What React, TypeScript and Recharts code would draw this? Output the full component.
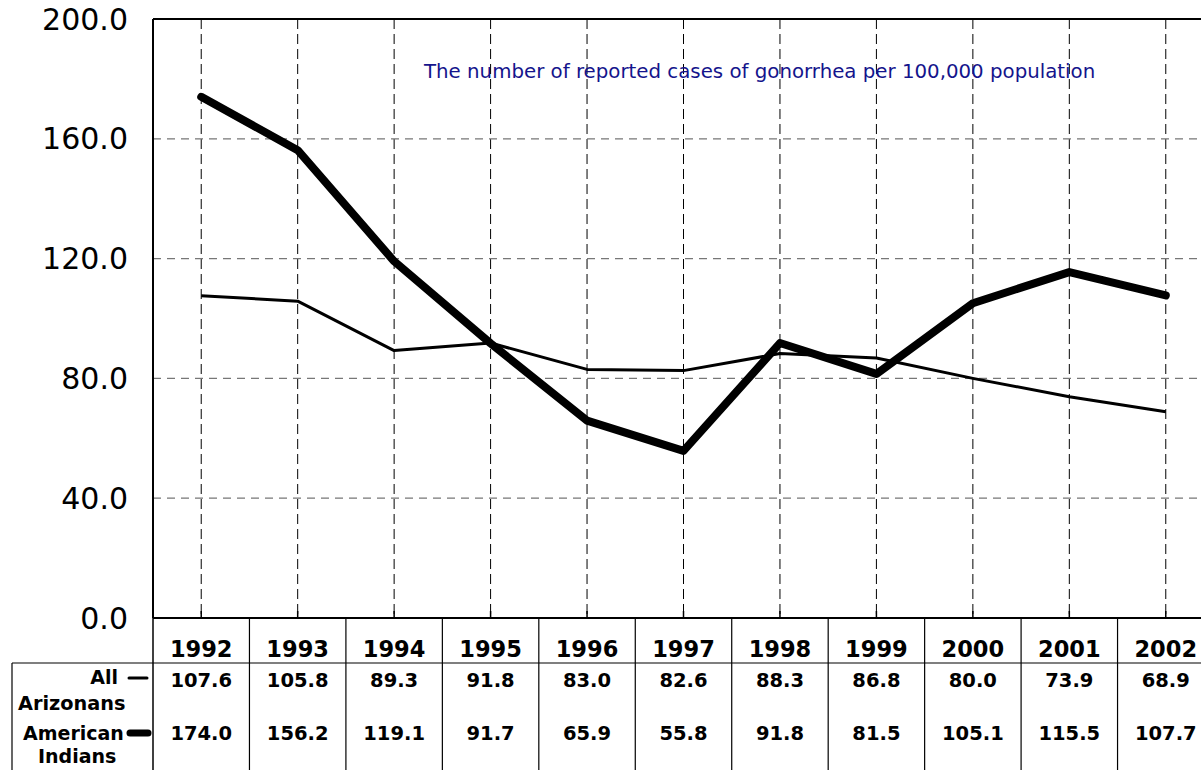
import { LineChart, Line, XAxis, YAxis, CartesianGrid, ReferenceLine } from "recharts";

const years = ["1992", "1993", "1994", "1995", "1996", "1997", "1998", "1999", "2000", "2001", "2002"];
const allArizonans = [107.6, 105.8, 89.3, 91.8, 83.0, 82.6, 88.3, 86.8, 80.0, 73.9, 68.9];
const americanIndians = [174.0, 156.2, 119.1, 91.7, 65.9, 55.8, 91.8, 81.5, 105.1, 115.5, 107.7];
const yTicks = [0, 40, 80, 120, 160, 200];
const title = "The number of reported cases of gonorrhea per 100,000 population";

const CHART_W = 1214;
const CHART_H = 770;
const Y_AXIS_W = 153;
const PLOT_W = CHART_W - Y_AXIS_W;
const STEP = PLOT_W / years.length;
const FONT = "'DejaVu Sans', Verdana, sans-serif";

const data = years.map((year, i) => ({
  year,
  all: allArizonans[i],
  ai: americanIndians[i],
}));

function TableTick(props: any) {
  const { x, y, payload, index } = props;
  const bottom = CHART_H;
  const left = x - STEP / 2;
  const right = x + STEP / 2;
  return (
    <g>
      {/* inward tick */}
      <line x1={x} x2={x} y1={y} y2={y - 7} stroke="#000" strokeWidth={1.5} />
      <line x1={right} x2={right} y1={y} y2={bottom} stroke="#000" strokeWidth={1.2} />
      {index === 0 && (
        <g>
          <line x1={left} x2={left} y1={y} y2={bottom} stroke="#000" strokeWidth={1.5} />
          <line x1={12} x2={12} y1={y + 45} y2={bottom} stroke="#000" strokeWidth={1.2} />
          <line x1={12} x2={CHART_W} y1={y + 45} y2={y + 45} stroke="#000" strokeWidth={1.2} />
          <text x={118} y={684} textAnchor="end" fontFamily={FONT} fontWeight="bold" fontSize={19} fill="#000">All</text>
          <line x1={129} x2={147} y1={678} y2={678} stroke="#000" strokeWidth={3} strokeLinecap="round" />
          <text x={18} y={710} fontFamily={FONT} fontWeight="bold" fontSize={19.3} fill="#000">Arizonans</text>
          <text x={23} y={740} fontFamily={FONT} fontWeight="bold" fontSize={19} fill="#000">American</text>
          <line x1={130} x2={148} y1={733} y2={733} stroke="#000" strokeWidth={7} strokeLinecap="round" />
          <text x={38} y={763} fontFamily={FONT} fontWeight="bold" fontSize={19} fill="#000">Indians</text>
        </g>
      )}
      <text x={x} y={y + 39} textAnchor="middle" fontFamily={FONT} fontWeight="bold" fontSize={22.5} fill="#000">
        {payload.value}
      </text>
      <text x={x} y={y + 69} textAnchor="middle" fontFamily={FONT} fontWeight="bold" fontSize={19.5} fill="#000">
        {allArizonans[index].toFixed(1)}
      </text>
      <text x={x} y={y + 122} textAnchor="middle" fontFamily={FONT} fontWeight="bold" fontSize={19.5} fill="#000">
        {americanIndians[index].toFixed(1)}
      </text>
    </g>
  );
}

export default function App() {
  return (
    <div
      style={{
        position: "fixed",
        top: 0,
        left: 0,
        width: 1201,
        height: 770,
        overflow: "hidden",
        background: "#fff",
      }}
    >
      <LineChart
        width={CHART_W}
        height={CHART_H}
        data={data}
        margin={{ top: 19, right: 0, bottom: 0, left: 0 }}
      >
        <CartesianGrid horizontal={false} vertical stroke="#000" strokeDasharray="10 5" strokeWidth={1} />
        <CartesianGrid horizontal vertical={false} stroke="#777" strokeDasharray="8 6" strokeWidth={1.2} />
        <XAxis
          dataKey="year"
          interval={0}
          height={CHART_H - 618}
          padding={{ left: STEP / 2, right: STEP / 2 }}
          axisLine={{ stroke: "#000", strokeWidth: 2 }}
          tickLine={false}
          tickSize={0}
          tickMargin={0}
          tick={<TableTick />}
        />
        <YAxis
          width={Y_AXIS_W}
          domain={[0, 200]}
          ticks={yTicks}
          interval={0}
          tickFormatter={(v: number) => v.toFixed(1)}
          axisLine={{ stroke: "#000", strokeWidth: 2 }}
          tickLine={false}
          tickSize={0}
          tickMargin={25}
          tick={{ fill: "#000", fontSize: 30, fontFamily: FONT }}
        />
        <ReferenceLine y={200} stroke="#000" strokeWidth={2} />
        <Line
          dataKey="all"
          stroke="#000"
          strokeWidth={3}
          dot={false}
          activeDot={false}
          strokeLinejoin="round"
          isAnimationActive={false}
        />
        <Line
          dataKey="ai"
          stroke="#000"
          strokeWidth={8}
          dot={false}
          activeDot={false}
          strokeLinecap="round"
          strokeLinejoin="round"
          isAnimationActive={false}
        />
      </LineChart>
      <div
        style={{
          position: "absolute",
          left: 424,
          top: 60,
          fontFamily: FONT,
          fontSize: 19.8,
          color: "#14148c",
          whiteSpace: "nowrap",
        }}
      >
        {title}
      </div>
    </div>
  );
}
